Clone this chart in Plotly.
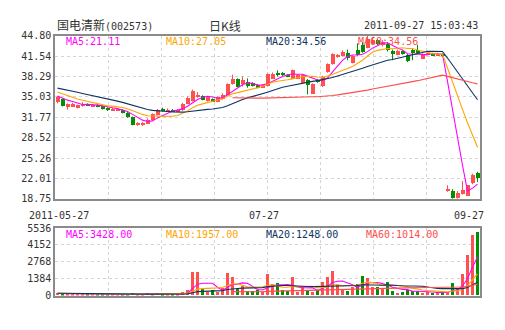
import plotly.graph_objects as go

# ---------------- data ----------------
open_ = [34.2, 34.7, 33.4, 33.6, 33.3, 33.6, 33.9, 33.6, 33.8, 33.6,
         33.3, 32.9, 32.9, 33.0, 32.5, 31.8, 30.6, 30.6, 30.8, 31.4,
         32.2, 33.2, 32.8, 33.0, 32.8, 32.9, 34.0, 34.4, 35.1, 35.2,
         34.4, 34.7, 34.3, 34.7, 35.3, 37.1, 37.9, 37.1, 37.5, 37.3,
         37.0, 36.6, 36.83, 38.0, 38.9, 38.9, 38.6, 38.0, 38.0, 37.3,
         37.76, 35.6, 37.76, 36.8, 39.05, 40.33, 41.55, 41.6, 42.1, 40.5,
         42.6, 43.4, 42.9, 43.6, 44.1, 43.3, 43.6, 42.4, 41.8, 42.4,
         41.7, 42.5, 42.5, 41.2, 41.9, 42.0, 41.7, 41.95, 20.1, 20.03,
         18.95, 19.52, 19.26, 21.22, 22.87]
close = [35.0, 33.6, 33.9, 33.9, 33.7, 34.0, 33.7, 33.75, 33.5, 33.1,
         32.9, 33.2, 33.1, 32.5, 31.8, 30.6, 30.9, 30.8, 31.4, 32.3,
         33.0, 32.8, 33.0, 32.8, 33.0, 34.0, 34.9, 36.0, 35.15, 34.6,
         35.0, 34.4, 35.0, 35.4, 37.1, 37.9, 36.7, 37.8, 36.8, 36.8,
         36.5, 36.9, 38.68, 38.8, 38.55, 38.5, 38.4, 39.3, 38.6, 38.5,
         37.0, 37.14, 37.5, 38.3, 40.33, 41.87, 41.65, 42.3, 41.3, 41.6,
         41.8, 42.3, 44.4, 44.1, 43.5, 43.9, 42.5, 42.0, 42.4, 42.0,
         40.8, 42.1, 42.2, 41.9, 42.0, 41.7, 42.0, 41.7, 20.14, 18.86,
         19.67, 20.18, 20.91, 22.60, 22.09]
high = [35.2, 34.8, 34.0, 34.1, 33.8, 34.2, 34.0, 33.9, 33.9, 33.7,
        33.4, 33.3, 33.2, 33.1, 32.6, 31.9, 31.0, 31.0, 31.6, 32.4,
        33.1, 33.3, 33.2, 33.1, 33.1, 34.1, 35.1, 36.2, 35.8, 35.3,
        35.1, 34.8, 35.1, 35.6, 37.2, 38.6, 38.0, 38.3, 38.0, 37.4,
        37.1, 37.0, 38.8, 38.95, 39.3, 39.0, 38.7, 39.4, 38.7, 38.6,
        37.9, 37.2, 37.9, 38.4, 40.4, 42.0, 41.9, 42.5, 42.6, 41.7,
        43.6, 43.8, 44.80, 44.5, 44.3, 44.1, 43.8, 42.6, 42.6, 42.5,
        41.9, 42.7, 43.4, 42.0, 42.2, 42.1, 42.1, 42.0, 20.91, 20.29,
        19.98, 21.57, 20.95, 22.76, 23.07]
low = [34.0, 33.5, 33.0, 33.5, 33.2, 33.5, 33.6, 33.5, 33.4, 33.0,
       32.8, 32.8, 32.8, 32.4, 31.7, 30.5, 30.4, 30.4, 30.7, 31.3,
       32.1, 32.7, 32.7, 32.7, 32.7, 32.8, 33.9, 34.3, 34.9, 34.5,
       34.3, 34.3, 34.2, 34.6, 35.2, 37.0, 36.6, 36.7, 36.5, 36.7,
       36.4, 36.5, 36.7, 37.9, 38.3, 38.4, 38.2, 37.9, 37.9, 37.2,
       35.45, 35.5, 37.3, 36.6, 38.9, 40.2, 41.3, 41.5, 40.9, 40.4,
       41.6, 42.1, 42.8, 43.4, 43.3, 43.1, 42.3, 40.9, 41.7, 41.8,
       40.6, 40.9, 42.0, 41.1, 41.7, 41.6, 41.6, 41.5, 19.87, 18.75,
       18.75, 19.41, 19.21, 21.06, 21.42]
volume = [240, 120, 150, 130, 120, 100, 80, 80, 80, 90,
          90, 80, 80, 90, 110, 180, 100, 90, 230, 120,
          240, 100, 90, 90, 120, 290, 420, 1920, 1920, 500,
          300, 420, 300, 600, 1820, 1480, 500, 815, 390, 390,
          420, 300, 1740, 950, 1000, 420, 390, 1480, 290, 690,
          420, 300, 420, 1090, 1540, 2010, 830, 500, 400, 700,
          950, 1620, 1400, 700, 690, 500, 1090, 400, 200, 300,
          450, 400, 400, 200, 250, 200, 250, 250, 300, 1000,
          590, 1770, 3300, 5000, 5200]

# closes / volumes of the listing days before the visible window (only feed the moving averages)
pre_close = [38.5, 37.8, 37.2, 37.6, 37.0, 36.5, 36.8, 37.4, 37.9, 37.5,
             37.0, 36.6, 36.9, 37.2, 36.8, 36.5, 36.9, 36.6, 36.3, 36.0,
             35.6, 35.3, 35.0, 35.1]
pre_volume = [900, 600, 450, 380, 300, 260, 240, 220, 210, 200,
              190, 200, 180, 190, 200, 180, 170, 190, 180, 170,
              180, 160, 170, 160]

price_ticks = [44.80, 41.54, 38.29, 35.03, 31.77, 28.52, 25.26, 22.01, 18.75]
price_tick_text = ["44.80", "41.54", "38.29", "35.03", "31.77", "28.52", "25.26", "22.01", "18.75"]
vol_ticks = [0, 1384, 2768, 4152, 5536]
vol_tick_text = ["0", "1384", "2768", "4152", "5536"]
date_labels = ["2011-05-27", "07-27", "09-27"]
date_label_pos = [0.3, 41.3, 82.3]

ma_periods = [5, 10, 20, 60]
ma_colors = ["#ff00ff", "#ffa500", "#0d3461", "#ff4d4d"]
price_ma_text = ["MA5:21.11", "MA10:27.05", "MA20:34.56", "MA60:34.56"]
vol_ma_text = ["MA5:3428.00", "MA10:1957.00", "MA20:1248.00", "MA60:1014.00"]

title_name = "国电清新"
title_code = "(002573)"
title_mid = "日K线"
title_time = "2011-09-27 15:03:43"

RED = "#ff4f4f"
GREEN = "#008f00"

# ---------------- helpers ----------------
W, H = 505, 330
n = len(close)
idx = list(range(n))


def moving_avg(pre, vals, p):
    full = pre + vals
    off = len(pre)
    out = []
    for i in range(off, len(full)):
        if i + 1 < p:
            out.append(None)
        else:
            out.append(sum(full[i - p + 1:i + 1]) / p)
    return out


def px(x):
    return x / W


def py(y):
    return 1 - y / H


up = [c >= o for o, c in zip(open_, close)]
colors = [RED if u else GREEN for u in up]
body_base = [min(o, c) for o, c in zip(open_, close)]
body_h = [max(abs(c - o), 0.13) for o, c in zip(open_, close)]

fig = go.Figure()

# wicks
for col, flag in ((RED, True), (GREEN, False)):
    wx, wy = [], []
    for i in idx:
        if up[i] == flag:
            wx += [i, i, None]
            wy += [low[i], high[i], None]
    fig.add_trace(go.Scatter(x=wx, y=wy, mode="lines", line=dict(color=col, width=1),
                             xaxis="x", yaxis="y", hoverinfo="skip"))

# bodies
fig.add_trace(go.Bar(x=idx, y=body_h, base=body_base, width=0.8,
                     marker=dict(color=colors, line=dict(width=0)),
                     xaxis="x", yaxis="y"))

# price moving averages
for p, col in zip(ma_periods, ma_colors):
    fig.add_trace(go.Scatter(x=idx, y=moving_avg(pre_close, close, p), mode="lines",
                             line=dict(color=col, width=1.1), xaxis="x", yaxis="y",
                             connectgaps=False, hoverinfo="skip"))

# volume bars
fig.add_trace(go.Bar(x=idx, y=volume, width=0.75,
                     marker=dict(color=colors, line=dict(width=0)),
                     xaxis="x2", yaxis="y2"))

# volume moving averages
for p, col in zip(ma_periods, ma_colors):
    fig.add_trace(go.Scatter(x=idx, y=moving_avg(pre_volume, volume, p), mode="lines",
                             line=dict(color=col, width=1.1), xaxis="x2", yaxis="y2",
                             connectgaps=False, hoverinfo="skip"))

grid_vals = [-0.5 + 85 / 8 * k for k in range(1, 8)]
axis_font = dict(family="DejaVu Sans Mono", size=10, color="#333333")
xdom = [px(55), px(480)]
common_x = dict(domain=xdom, range=[-0.5, n - 0.5], tickvals=grid_vals, showticklabels=False,
                ticks="", showgrid=True, gridcolor="#d4d4d4", griddash="3px,3px", gridwidth=1,
                showline=True, linecolor="#8a8a8a", linewidth=1.5, mirror=True, zeroline=False,
                fixedrange=True)
common_y = dict(showgrid=True, gridcolor="#d4d4d4", griddash="3px,3px", gridwidth=1,
                showline=True, linecolor="#8a8a8a", linewidth=1.5, mirror=True, zeroline=False,
                ticks="", tickfont=axis_font, fixedrange=True)

fig.update_layout(
    width=W, height=H, margin=dict(l=0, r=0, t=0, b=0),
    paper_bgcolor="white", plot_bgcolor="white", showlegend=False, bargap=0,
    xaxis=dict(anchor="y", **common_x),
    xaxis2=dict(anchor="y2", matches="x", **common_x),
    yaxis=dict(anchor="x", domain=[py(200), py(31)], range=[price_ticks[-1], price_ticks[0]],
               tickvals=price_ticks, ticktext=price_tick_text, **common_y),
    yaxis2=dict(anchor="x2", domain=[py(300.5), py(230.5)], range=[vol_ticks[0], vol_ticks[-1]],
                tickvals=vol_ticks, ticktext=vol_tick_text, **common_y),
)

ann = []
mono = "DejaVu Sans Mono, Noto Sans CJK SC"
# title row
ann.append(dict(x=px(55), y=py(20.5), xref="paper", yref="paper", xanchor="left", yanchor="middle",
                text='<span style="font-size:12px">' + title_name + '</span>' + title_code,
                showarrow=False, font=dict(family=mono, size=10, color="#333333")))
ann.append(dict(x=px(225), y=py(20.5), xref="paper", yref="paper", xanchor="center", yanchor="middle",
                text=title_mid, showarrow=False,
                font=dict(family="Noto Sans CJK SC", size=12, color="#333333")))
ann.append(dict(x=px(480), y=py(20.5), xref="paper", yref="paper", xanchor="right", yanchor="middle",
                text=title_time, showarrow=False, font=dict(family=mono, size=10, color="#333333")))
# MA legends
for t, col, x0 in zip(price_ma_text, ma_colors, [64, 164, 264, 356]):
    ann.append(dict(x=px(x0), y=py(36.5), xref="paper", yref="paper", xanchor="left", yanchor="middle",
                    text=t, showarrow=False, font=dict(family=mono, size=10, color=col)))
for t, col, x0 in zip(vol_ma_text, ma_colors, [64, 164, 264, 364]):
    ann.append(dict(x=px(x0), y=py(237), xref="paper", yref="paper", xanchor="left", yanchor="middle",
                    text=t, showarrow=False, font=dict(family=mono, size=10, color=col)))
# date labels
for t, xv in zip(date_labels, date_label_pos):
    ann.append(dict(x=xv, y=py(217), xref="x", yref="paper", xanchor="center", yanchor="middle",
                    text=t, showarrow=False, font=dict(family=mono, size=10, color="#333333")))
fig.update_layout(annotations=ann)

fig.write_html("out.html")
